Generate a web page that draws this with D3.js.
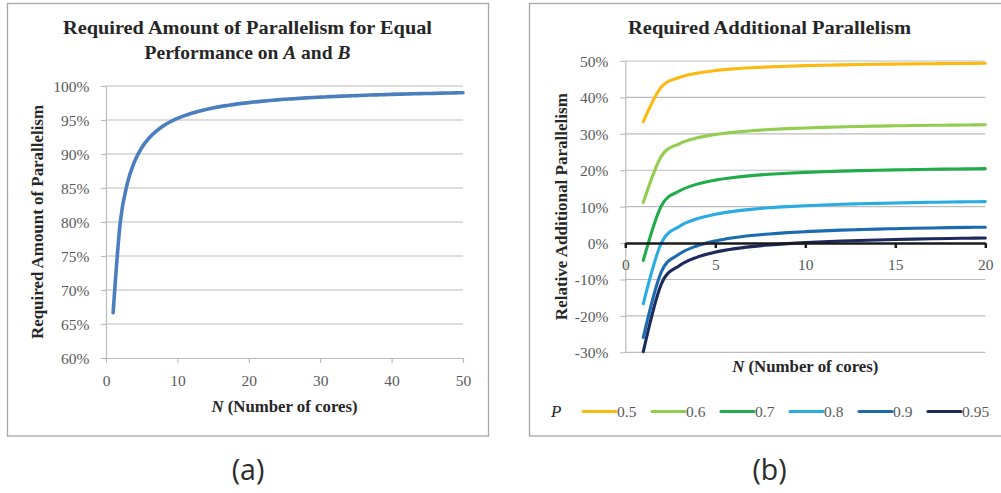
<!DOCTYPE html>
<html>
<head>
<meta charset="utf-8">
<script src="https://cdn.jsdelivr.net/npm/d3@7"></script>
<style>
  html, body { margin: 0; padding: 0; background: #fff; }
  svg { display: block; }
  text { font-family: "Liberation Serif", "Times New Roman", serif; }
</style>
</head>
<body>
<svg id="chart" width="1001" height="493"></svg>
<script>
// ---- Panel (a): required amount of parallelism vs. number of cores ----
const coresA = [1,2,3,4,5,6,7,8,9,10,11,12,13,14,15,16,17,18,19,20,
                21,22,23,24,25,26,27,28,29,30,31,32,33,34,35,36,37,38,39,40,
                41,42,43,44,45,46,47,48,49,50];
const requiredPct = [66.67,80.00,85.71,88.89,90.91,92.31,93.33,94.12,94.74,95.24,
                     95.65,96.00,96.30,96.55,96.77,96.97,97.14,97.30,97.44,97.56,
                     97.67,97.78,97.87,97.96,98.04,98.11,98.18,98.25,98.31,98.36,
                     98.41,98.46,98.51,98.55,98.59,98.63,98.67,98.70,98.73,98.77,
                     98.80,98.82,98.85,98.88,98.90,98.92,98.95,98.97,98.99,99.01];
const yTicksA = [60,65,70,75,80,85,90,95,100];
const xTicksA = [0,10,20,30,40,50];

// ---- Panel (b): relative additional parallelism for several P ----
const coresB = [1,2,3,4,5,6,7,8,9,10,11,12,13,14,15,16,17,18,19,20];
const pLabels = ["0.5","0.6","0.7","0.8","0.9","0.95"];
const addP050 = [33.33,42.86,45.45,46.67,47.37,47.83,48.15,48.39,48.57,48.72,
                 48.84,48.94,49.02,49.09,49.15,49.21,49.25,49.30,49.33,49.37];
const addP060 = [11.11,23.81,27.27,28.89,29.82,30.43,30.86,31.18,31.43,31.62,
                 31.78,31.91,32.03,32.12,32.20,32.28,32.34,32.39,32.44,32.49];
const addP070 = [-4.76,10.20,14.29,16.19,17.29,18.01,18.52,18.89,19.18,19.41,
                 19.60,19.76,19.89,20.00,20.10,20.18,20.26,20.32,20.38,20.43];
const addP080 = [-16.67,0.00,4.55,6.67,7.89,8.70,9.26,9.68,10.00,10.26,
                 10.47,10.64,10.78,10.91,11.02,11.11,11.19,11.27,11.33,11.39];
const addP090 = [-25.93,-7.94,-3.03,-0.74,0.58,1.45,2.06,2.51,2.86,3.13,
                 3.36,3.55,3.70,3.84,3.95,4.06,4.15,4.23,4.30,4.36];
const addP095 = [-29.82,-11.28,-6.22,-3.86,-2.49,-1.60,-0.97,-0.51,-0.15,0.13,
                 0.37,0.56,0.72,0.86,0.98,1.09,1.18,1.26,1.33,1.40];
const seriesB = [addP050, addP060, addP070, addP080, addP090, addP095];
const pColors = ["#FBBA12", "#92CD50", "#20AC4B", "#2AABE2", "#1C6BB0", "#1D2A5E"];
const yTicksB = [-30,-20,-10,0,10,20,30,40,50];
const xTicksB = [0,5,10,15,20];

const svg = d3.select("#chart");
const gridColor = "#BBBBBB";
const labelColor = "#595959";
const titleColor = "#262626";

// Panel frames
svg.append("rect").attr("x", 7.5).attr("y", 3.5).attr("width", 481).attr("height", 432.5)
  .attr("fill", "none").attr("stroke", "#A6A6A6").attr("stroke-width", 1.3);
svg.append("rect").attr("x", 529.5).attr("y", 3.5).attr("width", 475).attr("height", 432.5)
  .attr("fill", "none").attr("stroke", "#A6A6A6").attr("stroke-width", 1.3);

function styleTicks(sel, size) {
  sel.selectAll("text").attr("fill", labelColor).style("font-size", size)
    .style("font-family", "Liberation Serif");
}

// ============ Panel (a) ============
const xA = d3.scaleLinear().domain([0, 50]).range([106, 463]);
const yA = d3.scaleLinear().domain([60, 100]).range([358, 86]);
const gA = svg.append("g");

gA.append("g").selectAll("line").data(yTicksA.slice(1)).join("line")
  .attr("x1", xA(0)).attr("x2", xA(50))
  .attr("y1", d => yA(d)).attr("y2", d => yA(d))
  .attr("stroke", gridColor).attr("stroke-width", 1.2);

const axLA = gA.append("g").attr("transform", `translate(${xA(0)},0)`)
  .call(d3.axisLeft(yA).tickValues(yTicksA).tickSize(5).tickSizeOuter(0).tickPadding(11.5)
        .tickFormat(d => d + "%"));
axLA.select(".domain").attr("stroke", gridColor).attr("stroke-width", 1.2);
axLA.selectAll(".tick line").attr("stroke", gridColor).attr("stroke-width", 1.2);
styleTicks(axLA, "15.5px");
axLA.selectAll("text").attr("dy", "0.35em");

const axBA = gA.append("g").attr("transform", `translate(0,${yA(60)})`)
  .call(d3.axisBottom(xA).tickValues(xTicksA).tickSize(5).tickSizeOuter(0));
axBA.select(".domain").attr("stroke", gridColor).attr("stroke-width", 1.2);
axBA.selectAll(".tick line").attr("stroke", gridColor).attr("stroke-width", 1.2);
styleTicks(axBA, "15.5px");
axBA.selectAll("text").attr("dy", null).attr("y", 28);

const lineA = d3.line().x((d, i) => xA(coresA[i])).y(d => yA(d))
  .curve(d3.curveCatmullRom.alpha(0));
gA.append("path").datum(requiredPct).attr("d", lineA)
  .attr("fill", "none").attr("stroke", "#4A7EBF").attr("stroke-width", 3.6)
  .attr("stroke-linecap", "round").attr("stroke-linejoin", "round");

const titleA = gA.append("text").attr("text-anchor", "middle").attr("fill", titleColor)
  .style("font-size", "19.5px").style("font-weight", "bold");
titleA.append("tspan").attr("x", 247.5).attr("y", 33.5)
  .attr("textLength", 369).attr("lengthAdjust", "spacingAndGlyphs")
  .text("Required Amount of Parallelism for Equal");
const tA2 = titleA.append("tspan").attr("x", 247.5).attr("y", 58.5);
tA2.append("tspan").text("Performance on ");
tA2.append("tspan").style("font-style", "italic").text("A");
tA2.append("tspan").text(" and ");
tA2.append("tspan").style("font-style", "italic").text("B");

gA.append("text").attr("transform", `translate(42.5,${(yA(60) + yA(100)) / 2}) rotate(-90)`)
  .attr("text-anchor", "middle").attr("fill", titleColor)
  .style("font-size", "16.5px").style("font-weight", "bold")
  .attr("textLength", 234).attr("lengthAdjust", "spacingAndGlyphs")
  .text("Required Amount of Parallelism");

const xlA = gA.append("text").attr("x", (xA(0) + xA(50)) / 2).attr("y", 412)
  .attr("text-anchor", "middle").attr("fill", titleColor)
  .style("font-size", "16.8px").style("font-weight", "bold");
xlA.append("tspan").style("font-style", "italic").text("N");
xlA.append("tspan").text(" (Number of cores)");

// ============ Panel (b) ============
const xB = d3.scaleLinear().domain([0, 20]).range([625.3, 985.3]);
const yB = d3.scaleLinear().domain([-30, 50]).range([352.3, 61]);
const gB = svg.append("g");

gB.append("g").selectAll("line").data(yTicksB.filter(d => d !== 0)).join("line")
  .attr("x1", xB(0)).attr("x2", xB(20))
  .attr("y1", d => yB(d)).attr("y2", d => yB(d))
  .attr("stroke", gridColor).attr("stroke-width", 1.2);

const axLB = gB.append("g").attr("transform", `translate(${xB(0)},0)`)
  .call(d3.axisLeft(yB).tickValues(yTicksB).tickSize(5).tickSizeOuter(0).tickPadding(12)
        .tickFormat(d => d + "%"));
axLB.select(".domain").attr("stroke", gridColor).attr("stroke-width", 1.2);
axLB.selectAll(".tick line").attr("stroke", gridColor).attr("stroke-width", 1.2);
styleTicks(axLB, "15.5px");
axLB.selectAll("text").attr("dy", "0.35em");

// Curves, one per P
const lineB = d3.line().x((d, i) => xB(coresB[i])).y(d => yB(d))
  .curve(d3.curveCatmullRom.alpha(0));
gB.append("g").selectAll("path").data(seriesB).join("path")
  .attr("d", lineB).attr("fill", "none")
  .attr("stroke", (d, i) => pColors[i]).attr("stroke-width", 3.1)
  .attr("stroke-linecap", "round").attr("stroke-linejoin", "round");

// Zero axis drawn on top of the curves
const axBB = gB.append("g").attr("transform", `translate(0,${yB(0)})`)
  .call(d3.axisBottom(xB).tickValues(xTicksB).tickSize(5).tickSizeOuter(0));
axBB.select(".domain").attr("stroke", "#1A1A1A").attr("stroke-width", 2.5);
axBB.selectAll(".tick line").attr("stroke", "#1A1A1A").attr("stroke-width", 2.5);
styleTicks(axBB, "15.5px");
axBB.selectAll("text").attr("dy", null).attr("y", 27);

gB.append("text").attr("x", 769.5).attr("y", 33.5).attr("text-anchor", "middle")
  .attr("fill", titleColor).style("font-size", "19.5px").style("font-weight", "bold")
  .attr("textLength", 283).attr("lengthAdjust", "spacingAndGlyphs")
  .text("Required Additional Parallelism");

gB.append("text").attr("transform", `translate(566.5,${(yB(-30) + yB(50)) / 2}) rotate(-90)`)
  .attr("text-anchor", "middle").attr("fill", titleColor)
  .style("font-size", "16.5px").style("font-weight", "bold")
  .attr("textLength", 227).attr("lengthAdjust", "spacingAndGlyphs")
  .text("Relative Additional Parallelism");

const xlB = gB.append("text").attr("x", (xB(0) + xB(20)) / 2).attr("y", 372)
  .attr("text-anchor", "middle").attr("fill", titleColor)
  .style("font-size", "16.8px").style("font-weight", "bold");
xlB.append("tspan").style("font-style", "italic").text("N");
xlB.append("tspan").text(" (Number of cores)");

// Legend
const legend = gB.append("g").attr("transform", "translate(0,411.5)");
legend.append("text").attr("x", 551).attr("y", 5.5).attr("fill", titleColor)
  .style("font-size", "17px").style("font-style", "italic").text("P");
const items = legend.selectAll("g.item").data(pLabels).join("g")
  .attr("class", "item").attr("transform", (d, i) => `translate(${583 + i * 69},0)`);
items.append("line").attr("x1", 0).attr("x2", 33).attr("y1", 0).attr("y2", 0)
  .attr("stroke", (d, i) => pColors[i]).attr("stroke-width", 3.1).attr("stroke-linecap", "round");
items.append("text").attr("x", 34).attr("y", 5.5).attr("fill", labelColor)
  .style("font-size", "15.5px").text(d => d);

// Sub-figure captions
svg.append("text").attr("x", 248).attr("y", 479.5).attr("text-anchor", "middle")
  .attr("fill", "#2B2B2B").style("font-family", "'Open Sans', sans-serif").style("font-size", "28.5px")
  .text("(a)");
svg.append("text").attr("x", 769.5).attr("y", 479.5).attr("text-anchor", "middle")
  .attr("fill", "#2B2B2B").style("font-family", "'Open Sans', sans-serif").style("font-size", "28.5px")
  .text("(b)");
</script>
</body>
</html>
